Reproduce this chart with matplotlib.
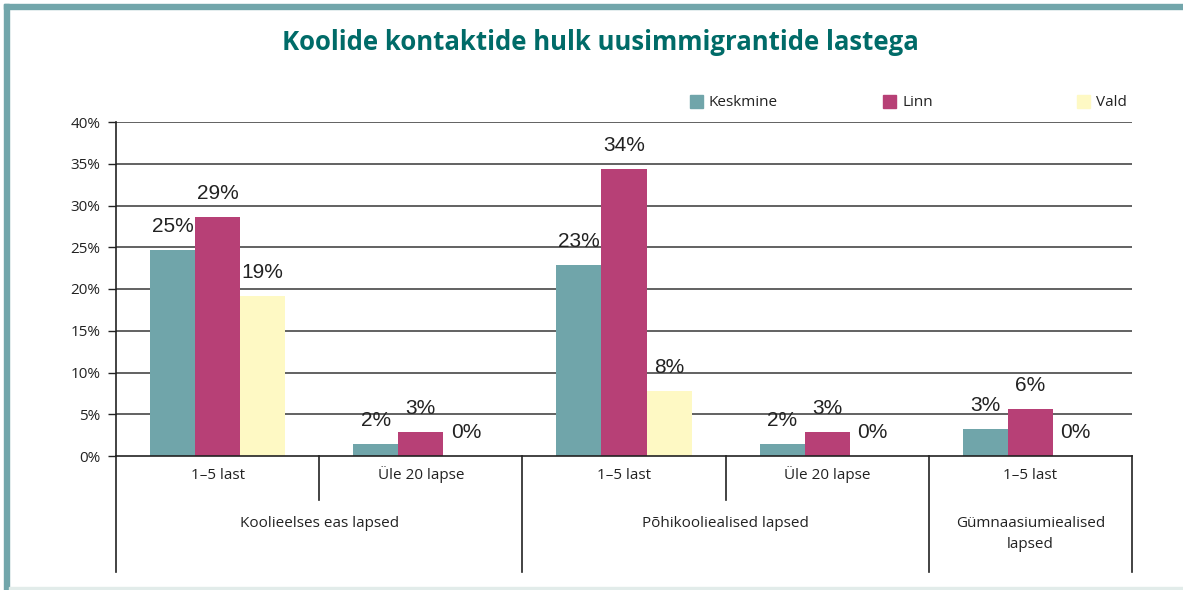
import matplotlib
matplotlib.use("Agg")
import matplotlib.pyplot as plt
from matplotlib.patches import Rectangle
import numpy as np

title = "Koolide kontaktide hulk uusimmigrantide lastega"
series = ["Keskmine", "Linn", "Vald"]
colors = ["#70a5aa", "#b74076", "#fef9c4"]
sub_labels = ["1–5 last", "Üle 20 lapse", "1–5 last", "Üle 20 lapse", "1–5 last"]
group_labels = ["Koolieelses eas lapsed", "Põhikooliealised lapsed", "Gümnaasiumiealised\nlapsed"]
group_spans = [(0, 2), (2, 4), (4, 5)]
keskmine = [24.7, 1.4, 22.9, 1.4, 3.2]
linn = [28.6, 2.9, 34.4, 2.9, 5.6]
vald = [19.2, 0.0, 7.8, 0.0, 0.0]
value_labels = [["25%", "2%", "23%", "2%", "3%"],
                ["29%", "3%", "34%", "3%", "6%"],
                ["19%", "0%", "8%", "0%", "0%"]]
yticks = [0, 5, 10, 15, 20, 25, 30, 35, 40]

W, H = 1183, 590
fig = plt.figure(figsize=(W / 100, H / 100), dpi=100)
fig.patch.set_facecolor("white")

# frame
frame_c = "#72a6ab"
fig.patches.append(Rectangle((4 / W, 0), 5 / W, 1 - 4 / H, transform=fig.transFigure, color=frame_c, zorder=0))
fig.patches.append(Rectangle((4 / W, 1 - 9 / H), 1 - 4 / W, 5 / H, transform=fig.transFigure, color=frame_c, zorder=0))
fig.patches.append(Rectangle((9 / W, 1 - 590 / H), 1 - 9 / W, 3 / H, transform=fig.transFigure, color="#e2ecea", zorder=0))

x0, x1, ytop, ybot = 116, 1132, 122, 456
ax = fig.add_axes([x0 / W, 1 - ybot / H, (x1 - x0) / W, (ybot - ytop) / H])
ax.set_xlim(0, 5)
ax.set_ylim(0, 40)

font = "Open Sans"
x = np.arange(5) + 0.5
bw = 0.222
data = [keskmine, linn, vald]
for k, (vals, c) in enumerate(zip(data, colors)):
    pos = x + (k - 1) * bw
    ax.bar(pos, vals, width=bw, color=c, zorder=2)
    for p, v, lab in zip(pos, vals, value_labels[k]):
        ax.annotate(lab, (p, v), xytext=(0, 10), textcoords="offset points",
                    ha="center", va="bottom", fontsize=15, family="Liberation Sans",
                    color="#222222", zorder=3)

ax.set_yticks(yticks)
ax.set_yticklabels([f"{t}%" for t in yticks], family=font, fontsize=11, color="#222222")
for t in yticks[1:]:
    ax.axhline(t, color="#555555", lw=1.3, zorder=1)
ax.tick_params(axis="y", direction="out", length=6, width=1, color="#222222", pad=5)
ax.set_xticks([])
for s in ["top", "right"]:
    ax.spines[s].set_visible(False)
ax.spines["left"].set_color("#222222")
ax.spines["bottom"].set_color("#222222")
ax.spines["left"].set_linewidth(1.2)
ax.spines["bottom"].set_linewidth(1.2)

tr = ax.get_xaxis_transform()
ax_h = ybot - ytop
short = -(500 - ybot) / ax_h
long = -(572 - ybot) / ax_h
for b in range(6):
    is_group = b in (0, 2, 4, 5)
    ax.plot([b, b], [0, long if is_group else short], transform=tr, color="#222222",
            lw=1.2, clip_on=False)
for i, lab in enumerate(sub_labels):
    ax.text(i + 0.5, -(479 - ybot) / ax_h, lab, transform=tr, ha="center", va="baseline",
            family=font, fontsize=11, color="#222222")
for (a, b), lab in zip(group_spans, group_labels):
    lines = lab.split("\n")
    for j, line in enumerate(lines):
        ax.text((a + b) / 2, -(527 + 21 * j - ybot) / ax_h, line, transform=tr, ha="center",
                va="baseline", family=font, fontsize=11, color="#222222")

# legend
leg_x = [690, 883, 1077]
for lx, name, c in zip(leg_x, series, colors):
    fig.patches.append(Rectangle((lx / W, 1 - 108 / H), 13 / W, 13 / H, transform=fig.transFigure, color=c))
    fig.text((lx + 19) / W, 1 - 106 / H, name, ha="left", va="baseline", family=font,
             fontsize=11, color="#222222")

fig.text(600 / W, 1 - 43 / H, title, ha="center", va="center", family=font, fontweight="bold",
         fontsize=18.5, color="#006b68")

fig.savefig("out.png", dpi=100)
